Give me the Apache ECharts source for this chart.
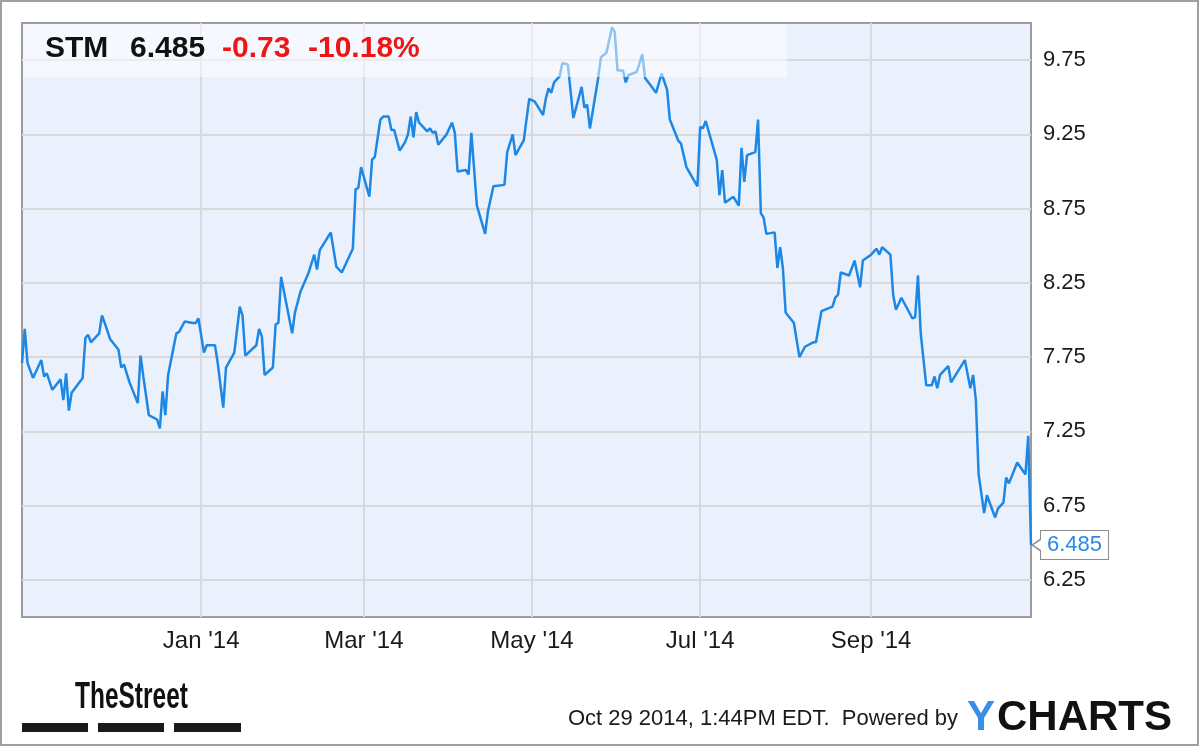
<!DOCTYPE html>
<html>
<head>
<meta charset="utf-8">
<title>STM</title>
<script src="https://cdn.jsdelivr.net/npm/echarts@6/dist/echarts.min.js"></script>
<style>
  html, body { margin: 0; padding: 0; background: #fff; }
  #chart { width: 1200px; height: 747px; }
</style>
</head>
<body>
<div id="chart"></div>
<script>
// daily closes
const dates = [
  '2013-10-28', '2013-10-29', '2013-10-30', '2013-11-01', '2013-11-04', '2013-11-05', '2013-11-06', '2013-11-08',
  '2013-11-11', '2013-11-12', '2013-11-13', '2013-11-14', '2013-11-15', '2013-11-19', '2013-11-20', '2013-11-21',
  '2013-11-22', '2013-11-25', '2013-11-26', '2013-11-27', '2013-11-29', '2013-12-02', '2013-12-03', '2013-12-04',
  '2013-12-06', '2013-12-09', '2013-12-10', '2013-12-11', '2013-12-13', '2013-12-16', '2013-12-17', '2013-12-18',
  '2013-12-19', '2013-12-20', '2013-12-23', '2013-12-24', '2013-12-26', '2013-12-29', '2013-12-30', '2013-12-31',
  '2014-01-02', '2014-01-03', '2014-01-06', '2014-01-07', '2014-01-09', '2014-01-10', '2014-01-13', '2014-01-15',
  '2014-01-16', '2014-01-17', '2014-01-21', '2014-01-22', '2014-01-23', '2014-01-24', '2014-01-27', '2014-01-28',
  '2014-01-29', '2014-01-30', '2014-02-03', '2014-02-04', '2014-02-06', '2014-02-09', '2014-02-11', '2014-02-12',
  '2014-02-13', '2014-02-15', '2014-02-17', '2014-02-19', '2014-02-21', '2014-02-25', '2014-02-26', '2014-02-27',
  '2014-02-28', '2014-03-03', '2014-03-04', '2014-03-05', '2014-03-07', '2014-03-08', '2014-03-10', '2014-03-11',
  '2014-03-12', '2014-03-14', '2014-03-16', '2014-03-17', '2014-03-18', '2014-03-19', '2014-03-20', '2014-03-21',
  '2014-03-24', '2014-03-25', '2014-03-26', '2014-03-27', '2014-03-28', '2014-03-31', '2014-04-02', '2014-04-03',
  '2014-04-04', '2014-04-07', '2014-04-08', '2014-04-09', '2014-04-11', '2014-04-14', '2014-04-15', '2014-04-17',
  '2014-04-21', '2014-04-22', '2014-04-24', '2014-04-25', '2014-04-28', '2014-04-30', '2014-05-02', '2014-05-05',
  '2014-05-06', '2014-05-07', '2014-05-08', '2014-05-09', '2014-05-11', '2014-05-12', '2014-05-14', '2014-05-16',
  '2014-05-19', '2014-05-20', '2014-05-21', '2014-05-22', '2014-05-25', '2014-05-26', '2014-05-28', '2014-05-30',
  '2014-05-31', '2014-06-01', '2014-06-03', '2014-06-04', '2014-06-05', '2014-06-08', '2014-06-10', '2014-06-11',
  '2014-06-13', '2014-06-15', '2014-06-17', '2014-06-19', '2014-06-20', '2014-06-23', '2014-06-24', '2014-06-26',
  '2014-06-30', '2014-07-01', '2014-07-02', '2014-07-03', '2014-07-07', '2014-07-08', '2014-07-09', '2014-07-10',
  '2014-07-13', '2014-07-15', '2014-07-16', '2014-07-17', '2014-07-18', '2014-07-21', '2014-07-22', '2014-07-23',
  '2014-07-24', '2014-07-25', '2014-07-28', '2014-07-29', '2014-07-30', '2014-07-31', '2014-08-01', '2014-08-04',
  '2014-08-06', '2014-08-08', '2014-08-11', '2014-08-12', '2014-08-14', '2014-08-18', '2014-08-19', '2014-08-20',
  '2014-08-21', '2014-08-24', '2014-08-26', '2014-08-28', '2014-08-29', '2014-09-01', '2014-09-03', '2014-09-04',
  '2014-09-05', '2014-09-08', '2014-09-09', '2014-09-10', '2014-09-12', '2014-09-16', '2014-09-17', '2014-09-18',
  '2014-09-19', '2014-09-21', '2014-09-23', '2014-09-24', '2014-09-25', '2014-09-26', '2014-09-29', '2014-09-30',
  '2014-10-05', '2014-10-07', '2014-10-08', '2014-10-09', '2014-10-10', '2014-10-12', '2014-10-13', '2014-10-16',
  '2014-10-17', '2014-10-19', '2014-10-20', '2014-10-21', '2014-10-24', '2014-10-27', '2014-10-28', '2014-10-29'
]
const prices = [
  7.71, 7.94, 7.71, 7.61, 7.73, 7.62, 7.64, 7.53,
  7.60, 7.46, 7.64, 7.39, 7.51, 7.61, 7.88, 7.90,
  7.85, 7.91, 8.03, 7.98, 7.87, 7.80, 7.68, 7.70,
  7.58, 7.44, 7.76, 7.62, 7.36, 7.33, 7.27, 7.52,
  7.36, 7.63, 7.91, 7.92, 7.99, 7.98, 7.98, 8.01,
  7.78, 7.83, 7.83, 7.71, 7.41, 7.68, 7.78, 8.09,
  8.03, 7.76, 7.83, 7.94, 7.89, 7.63, 7.68, 7.97,
  7.98, 8.29, 7.91, 8.05, 8.19, 8.32, 8.44, 8.34,
  8.47, 8.53, 8.59, 8.36, 8.32, 8.48, 8.88, 8.89,
  9.03, 8.83, 9.08, 9.10, 9.35, 9.37, 9.37, 9.28,
  9.28, 9.14, 9.20, 9.25, 9.37, 9.23, 9.40, 9.33,
  9.27, 9.29, 9.26, 9.27, 9.18, 9.25, 9.33, 9.26,
  9.00, 9.01, 8.98, 9.26, 8.77, 8.58, 8.73, 8.90,
  8.91, 9.13, 9.25, 9.11, 9.21, 9.49, 9.47, 9.38,
  9.49, 9.56, 9.53, 9.60, 9.64, 9.73, 9.72, 9.36,
  9.57, 9.43, 9.45, 9.29, 9.63, 9.77, 9.80, 9.97,
  9.94, 9.68, 9.68, 9.60, 9.65, 9.67, 9.79, 9.63,
  9.58, 9.53, 9.66, 9.55, 9.35, 9.21, 9.19, 9.03,
  8.90, 9.30, 9.29, 9.34, 9.08, 8.84, 9.01, 8.79,
  8.83, 8.77, 9.16, 8.93, 9.11, 9.13, 9.35, 8.72,
  8.69, 8.58, 8.59, 8.35, 8.49, 8.35, 8.05, 7.98,
  7.75, 7.82, 7.85, 7.85, 8.06, 8.09, 8.15, 8.17,
  8.32, 8.30, 8.40, 8.22, 8.40, 8.44, 8.48, 8.44,
  8.49, 8.44, 8.17, 8.07, 8.15, 8.01, 8.02, 8.30,
  7.91, 7.56, 7.56, 7.62, 7.54, 7.63, 7.69, 7.58,
  7.73, 7.54, 7.63, 7.46, 6.96, 6.70, 6.82, 6.67,
  6.73, 6.77, 6.94, 6.90, 7.04, 6.96, 7.22, 6.485
]
const yTicks = [6.25, 6.75, 7.25, 7.75, 8.25, 8.75, 9.25, 9.75]
const xTicks = ['2014-01-01', '2014-03-01', '2014-05-01', '2014-07-01', '2014-09-01']
const monthNames = ['Jan', 'Feb', 'Mar', 'Apr', 'May', 'Jun', 'Jul', 'Aug', 'Sep', 'Oct', 'Nov', 'Dec']

const ticker = 'STM'
const lastPrice = 6.485
const change = -0.73
const changePct = -10.18
const stamp = 'Oct 29 2014, 1:44PM EDT.  Powered by'

const toTime = s => new Date(s + 'T00:00:00').getTime()
const FONT = '"Liberation Sans", Arial, sans-serif'
const BLUE = '#1c87e5'

const chart = echarts.init(document.getElementById('chart'))

const lastPoint = [toTime(dates[dates.length - 1]), prices[prices.length - 1]]

const option = {
  animation: false,
  grid: {
    left: 22,
    right: 169,
    top: 23,
    bottom: 130,
    show: true,
    backgroundColor: '#ebf1fc',
    borderColor: '#9c9c9c',
    borderWidth: 2
  },
  // time on a plain value axis so that the month ticks can be set by hand
  xAxis: {
    type: 'value',
    min: toTime('2013-10-28'),
    max: toTime('2014-10-29'),
    axisLine: { show: false },
    axisTick: { show: false, customValues: xTicks.map(toTime) },
    axisLabel: {
      customValues: xTicks.map(toTime),
      margin: 12,
      color: '#1a1a1a',
      fontFamily: FONT,
      fontSize: 24,
      formatter: val => {
        const d = new Date(val)
        return monthNames[d.getMonth()] + " '" + String(d.getFullYear()).slice(2)
      }
    },
    splitLine: { show: true, lineStyle: { color: '#d9d9d9', width: 2 } }
  },
  yAxis: {
    type: 'value',
    position: 'right',
    min: 6,
    max: 10,
    axisLine: { show: false },
    axisTick: { show: false, customValues: yTicks },
    axisLabel: {
      customValues: yTicks,
      margin: 12,
      color: '#1a1a1a',
      fontFamily: FONT,
      fontSize: 22,
      formatter: v => v.toFixed(2)
    },
    splitLine: { show: true, lineStyle: { color: '#d9d9d9', width: 2 } }
  },
  series: [{
    type: 'line',
    data: dates.map((d, i) => [toTime(d), prices[i]]),
    showSymbol: false,
    lineStyle: { color: BLUE, width: 2.5 },
    itemStyle: { color: BLUE },
    endLabel: {
      show: true,
      distance: 10,
      formatter: p => String(p.value[1]),
      color: '#2a8ae6',
      fontFamily: FONT,
      fontSize: 22,
      backgroundColor: '#fff',
      borderColor: '#8c8c8c',
      borderWidth: 1,
      padding: [3, 6, 3, 6]
    },
    // little pointer on the left of the last-price box
    markPoint: {
      silent: true,
      z: 10,
      label: { show: false },
      data: [
        { coord: lastPoint, symbol: 'triangle', symbolRotate: 90, symbolSize: [14, 10], symbolOffset: [5, 0],
          itemStyle: { color: '#8c8c8c' } },
        { coord: lastPoint, symbol: 'triangle', symbolRotate: 90, symbolSize: [12, 9], symbolOffset: [7, 0],
          itemStyle: { color: '#fff' } }
      ]
    }
  }],
  graphic: [
    // outer frame
    { type: 'rect', z: 100, shape: { x: 1, y: 1, width: 1197, height: 744 },
      style: { fill: 'none', stroke: '#a0a0a0', lineWidth: 2 } },
    // translucent header band
    { type: 'rect', z: 100, shape: { x: 23, y: 24, width: 764, height: 53 },
      style: { fill: 'rgba(255,255,255,0.5)' } },
    { type: 'text', z: 101, x: 45, y: 49,
      style: { text: ticker, fill: '#111', font: 'bold 30px ' + FONT, textVerticalAlign: 'middle' } },
    { type: 'text', z: 101, x: 130, y: 49,
      style: { text: lastPrice.toFixed(3), fill: '#111', font: 'bold 30px ' + FONT, textVerticalAlign: 'middle' } },
    { type: 'text', z: 101, x: 222, y: 49,
      style: { text: change.toFixed(2), fill: '#f01414', font: 'bold 30px ' + FONT, textVerticalAlign: 'middle' } },
    { type: 'text', z: 101, x: 308, y: 49,
      style: { text: changePct.toFixed(2) + '%', fill: '#f01414', font: 'bold 30px ' + FONT, textVerticalAlign: 'middle' } },
    // footer
    { type: 'text', z: 101, x: 75, y: 698, scaleX: 0.68,
      style: { text: 'TheStreet', fill: '#111', font: 'bold 36px ' + FONT, textVerticalAlign: 'middle' } },
    { type: 'rect', z: 101, shape: { x: 22, y: 723, width: 66, height: 9 }, style: { fill: '#1a1a1a' } },
    { type: 'rect', z: 101, shape: { x: 98, y: 723, width: 66, height: 9 }, style: { fill: '#1a1a1a' } },
    { type: 'rect', z: 101, shape: { x: 174, y: 723, width: 67, height: 9 }, style: { fill: '#1a1a1a' } },
    { type: 'text', z: 101, x: 958, y: 719,
      style: { text: stamp, fill: '#1a1a1a', font: '22px ' + FONT, textAlign: 'right', textVerticalAlign: 'middle' } },
    { type: 'text', z: 101, x: 967, y: 718,
      style: { text: 'Y', fill: '#3a8ee8', font: 'bold 42px ' + FONT, textVerticalAlign: 'middle' } },
    { type: 'text', z: 101, x: 997, y: 718,
      style: { text: 'CHARTS', fill: '#111', font: 'bold 42px ' + FONT, textVerticalAlign: 'middle', letterSpacing: 1.5 } }
  ]
}

chart.setOption(option)
</script>
</body>
</html>
